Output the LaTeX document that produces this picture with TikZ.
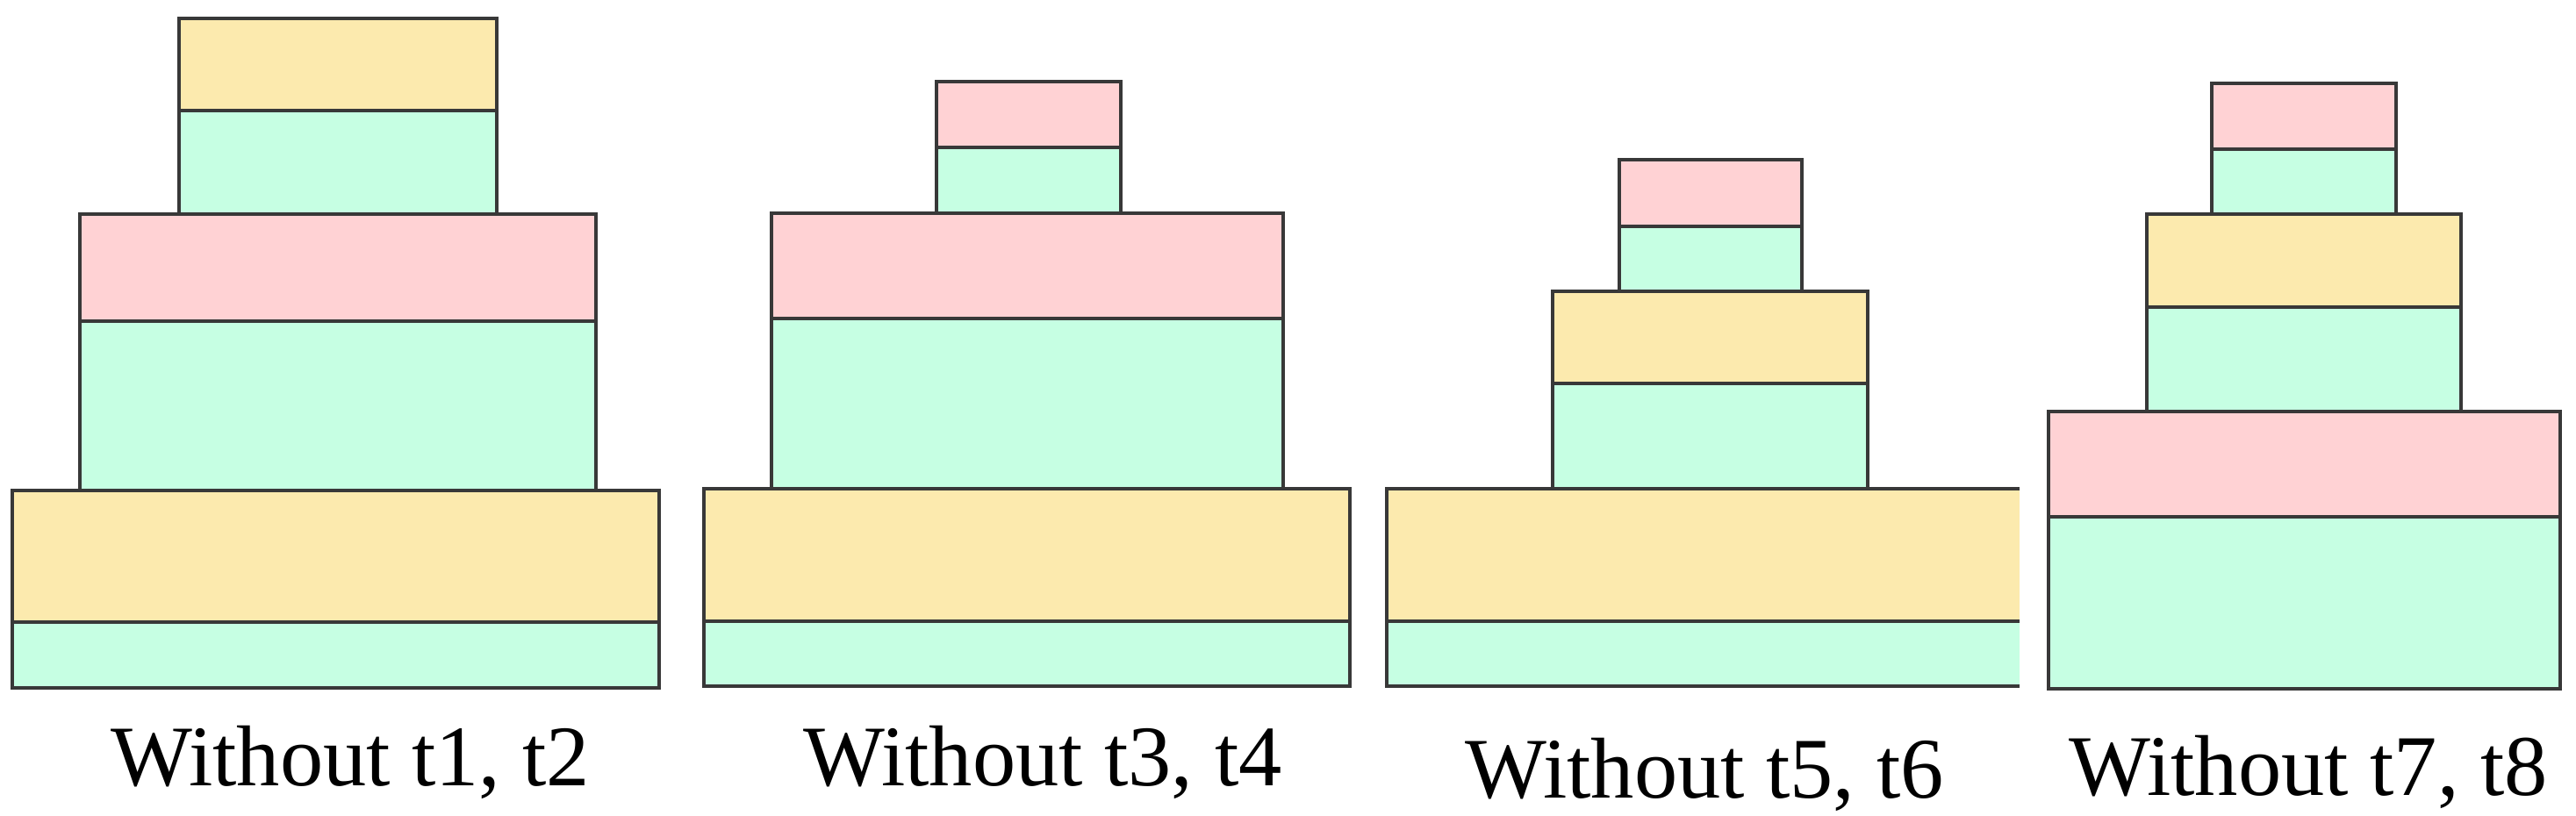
\documentclass[tikz,border=0pt]{standalone}
\usepackage{fontspec}
\setmainfont{Liberation Serif}
\usepackage{tikz}

\definecolor{tyellow}{RGB}{252,234,174}
\definecolor{tgreen}{RGB}{198,255,227}
\definecolor{tpink}{RGB}{255,210,212}

\tikzset{
  layer/.style={draw=black!78, line width=1pt},
  caption/.style={anchor=base, inner sep=0pt, font=\fontsize{28}{30}\selectfont}
}

\begin{document}
\begin{tikzpicture}
	\useasboundingbox (0,0) rectangle (29.35,9.29);

	% without t1, t2
	\begin{scope}
	  \filldraw [layer, fill=tyellow] (2.04,9.08) rectangle (5.66,8.03);
	  \filldraw [layer, fill=tgreen] (2.04,8.03) rectangle (5.66,6.85);
	  \filldraw [layer, fill=tpink] (0.91,6.85) rectangle (6.79,5.63);
	  \filldraw [layer, fill=tgreen] (0.91,5.63) rectangle (6.79,3.70);
	  \filldraw [layer, fill=tyellow] (0.14,3.70) rectangle (7.51,2.20);
	  \filldraw [layer, fill=tgreen] (0.14,2.20) rectangle (7.51,1.45);
	  \node [caption] (lbl1) at (3.99,0.34) {Without t1, t2};
	\end{scope}

	% without t3, t4
	\begin{scope}
	  \filldraw [layer, fill=tpink] (10.67,8.36) rectangle (12.77,7.61);
	  \filldraw [layer, fill=tgreen] (10.67,7.61) rectangle (12.77,6.86);
	  \filldraw [layer, fill=tpink] (8.79,6.86) rectangle (14.62,5.66);
	  \filldraw [layer, fill=tgreen] (8.79,5.66) rectangle (14.62,3.72);
	  \filldraw [layer, fill=tyellow] (8.02,3.72) rectangle (15.38,2.21);
	  \filldraw [layer, fill=tgreen] (8.02,2.21) rectangle (15.38,1.47);
	  \node [caption] (lbl2) at (11.88,0.34) {Without t3, t4};
	\end{scope}

	% without t5, t6
	\begin{scope}
	  \filldraw [layer, fill=tpink] (18.45,7.47) rectangle (20.53,6.71);
	  \filldraw [layer, fill=tgreen] (18.45,6.71) rectangle (20.53,5.97);
	  \filldraw [layer, fill=tyellow] (17.69,5.97) rectangle (21.28,4.92);
	  \filldraw [layer, fill=tgreen] (17.69,4.92) rectangle (21.28,3.72);
	  \fill [tyellow] (15.80,3.72) rectangle (23.01,2.21);
	  \fill [tgreen] (15.80,2.21) rectangle (23.01,1.47);
	  \draw [layer] (23.01,3.72) -- (15.80,3.72) -- (15.80,1.47) -- (23.01,1.47);
	  \draw [layer] (15.80,2.21) -- (23.01,2.21);
	  \node [caption] (lbl3) at (19.42,0.20) {Without t5, t6};
	\end{scope}

	% without t7, t8
	\begin{scope}
	  \filldraw [layer, fill=tpink] (25.20,8.34) rectangle (27.30,7.59);
	  \filldraw [layer, fill=tgreen] (25.20,7.59) rectangle (27.30,6.85);
	  \filldraw [layer, fill=tyellow] (24.46,6.85) rectangle (28.04,5.79);
	  \filldraw [layer, fill=tgreen] (24.46,5.79) rectangle (28.04,4.60);
	  \filldraw [layer, fill=tpink] (23.34,4.60) rectangle (29.17,3.40);
	  \filldraw [layer, fill=tgreen] (23.34,3.40) rectangle (29.17,1.44);
	  \node [caption] (lbl4) at (26.30,0.23) {Without t7, t8};
	\end{scope}
\end{tikzpicture}
\end{document}
